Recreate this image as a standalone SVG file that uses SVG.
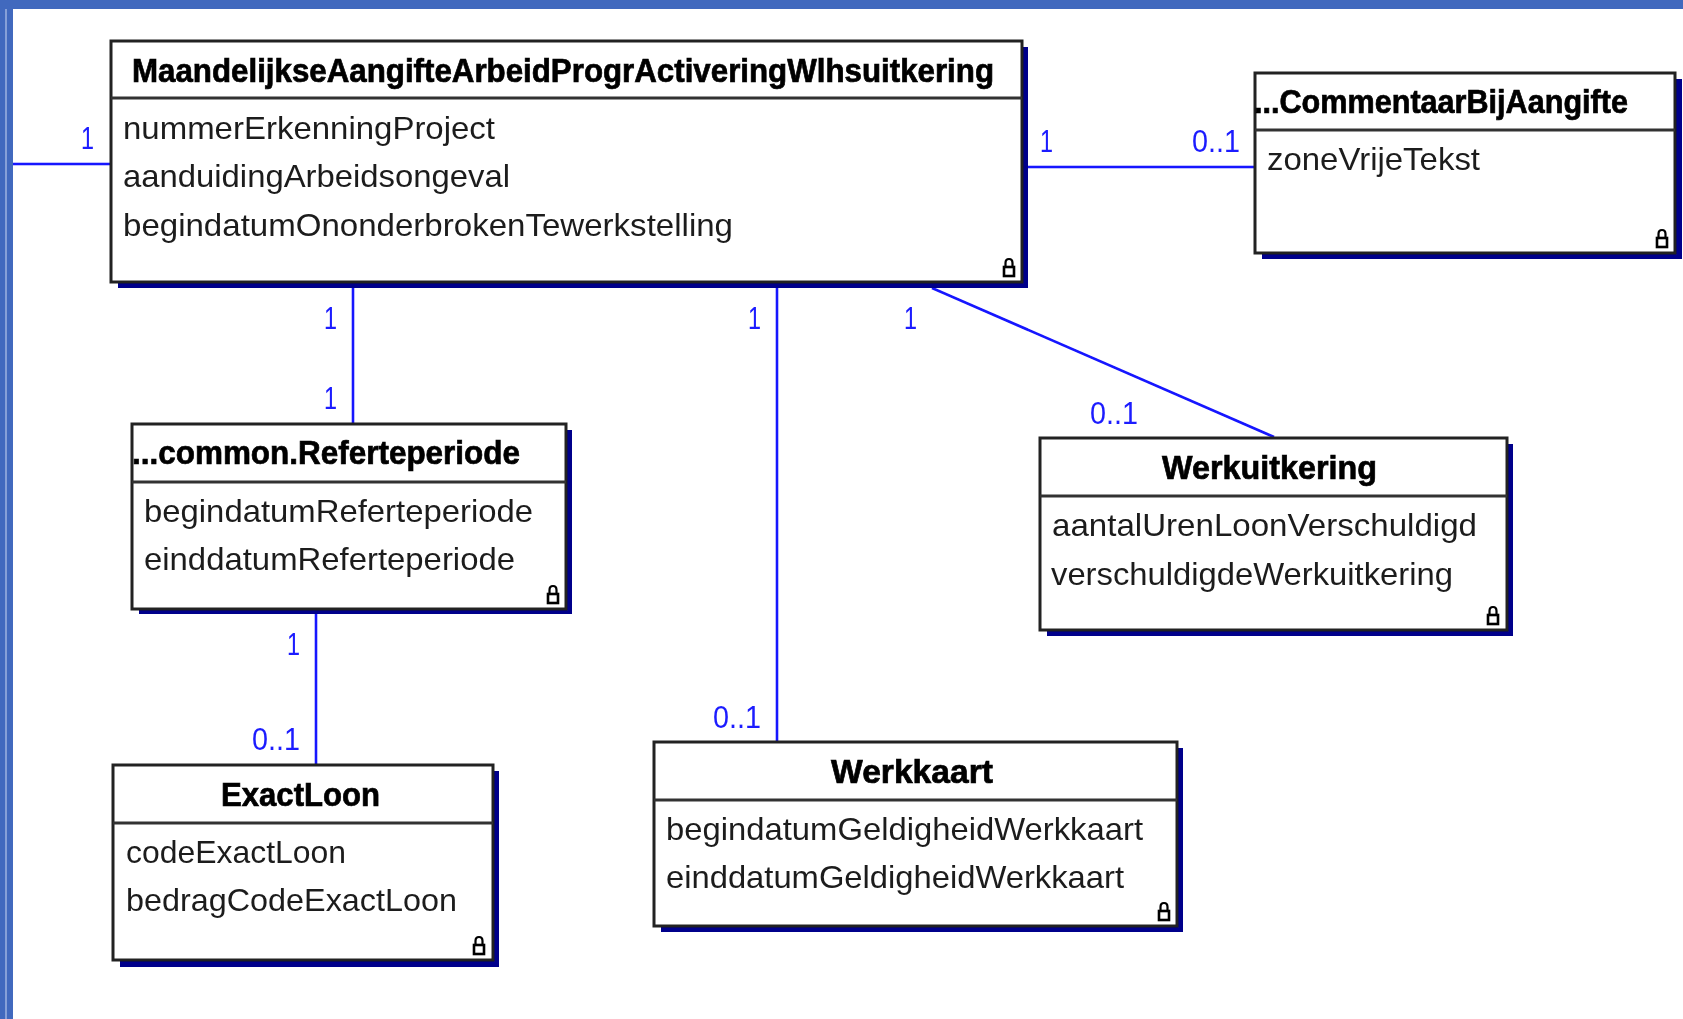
<svg xmlns="http://www.w3.org/2000/svg" width="1683" height="1019" viewBox="0 0 1683 1019">
<defs>
<filter id="soft" x="-2%" y="-5%" width="104%" height="110%"><feGaussianBlur stdDeviation="0.65"/></filter>
<g id="lock"><path d="M-3.500 -8 V-12 Q-3.500 -16 0 -16 Q3.500 -16 3.500 -12 V-8" fill="none" stroke="#000" stroke-width="2.200"/><rect x="-5" y="-8" width="10" height="9" fill="#fff" stroke="#000" stroke-width="2.600"/></g>
</defs>
<style>
.box{fill:#fff;stroke:#222;stroke-width:3}
.shadow{fill:#00008b}
.sep{stroke:#333;stroke-width:3;fill:none}
.title{font-family:"Liberation Sans",Arial,sans-serif;font-weight:700;font-size:33px;fill:#000;stroke:#000;stroke-width:.7}
.attr{font-family:"Liberation Sans",Arial,sans-serif;font-size:32px;fill:#1c1c1c}
.mult{font-family:"Liberation Sans",Arial,sans-serif;font-size:31px;fill:#1a1aff}
.conn{stroke:#1414ff;stroke-width:2.600;fill:none}
</style>
<rect width="1683" height="1019" fill="#fff"/>
<rect width="1683" height="9" fill="#4169be"/>
<rect width="13" height="1019" fill="#4169be"/>
<rect x="5" y="9" width="2" height="1010" fill="#86a0d8"/>
<g filter="url(#soft)">
<g id="connectors">
<line class="conn" x1="13" y1="164" x2="111" y2="164"/>
<line class="conn" x1="1028" y1="167" x2="1255" y2="167"/>
<line class="conn" x1="353" y1="288" x2="353" y2="424"/>
<line class="conn" x1="777" y1="288" x2="777" y2="742"/>
<line class="conn" x1="932" y1="288" x2="1274" y2="437"/>
<line class="conn" x1="316" y1="614" x2="316" y2="765"/>
</g>
<g id="main">
<rect class="shadow" x="118" y="47" width="910" height="241"/>
<rect class="box" x="111" y="41" width="911" height="241"/>
<line class="sep" x1="111" y1="98" x2="1022" y2="98"/>
<text class="title" x="132" y="82" textLength="862" lengthAdjust="spacingAndGlyphs">MaandelijkseAangifteArbeidProgrActiveringWlhsuitkering</text>
<text class="attr" x="123" y="139" textLength="372" lengthAdjust="spacingAndGlyphs">nummerErkenningProject</text>
<text class="attr" x="123" y="187" textLength="387" lengthAdjust="spacingAndGlyphs">aanduidingArbeidsongeval</text>
<text class="attr" x="123" y="236" textLength="610" lengthAdjust="spacingAndGlyphs">begindatumOnonderbrokenTewerkstelling</text>
<use href="#lock" x="1009" y="275"/>
</g>
<g id="commentaar">
<rect class="shadow" x="1262" y="79" width="420" height="180"/>
<rect class="box" x="1255" y="73" width="420" height="180"/>
<line class="sep" x1="1255" y1="130" x2="1675" y2="130"/>
<text class="title" x="1254" y="113" textLength="374" lengthAdjust="spacingAndGlyphs">...CommentaarBijAangifte</text>
<text class="attr" x="1267" y="170" textLength="213" lengthAdjust="spacingAndGlyphs">zoneVrijeTekst</text>
<use href="#lock" x="1662" y="246"/>
</g>
<g id="referteperiode">
<rect class="shadow" x="139" y="430" width="433" height="184"/>
<rect class="box" x="132" y="424" width="434" height="185"/>
<line class="sep" x1="132" y1="482" x2="566" y2="482"/>
<text class="title" x="132" y="464" textLength="388" lengthAdjust="spacingAndGlyphs">...common.Referteperiode</text>
<text class="attr" x="144" y="522" textLength="389" lengthAdjust="spacingAndGlyphs">begindatumReferteperiode</text>
<text class="attr" x="144" y="570" textLength="371" lengthAdjust="spacingAndGlyphs">einddatumReferteperiode</text>
<use href="#lock" x="553" y="602"/>
</g>
<g id="exactloon">
<rect class="shadow" x="120" y="771" width="379" height="196"/>
<rect class="box" x="113" y="765" width="380" height="195"/>
<line class="sep" x1="113" y1="823" x2="493" y2="823"/>
<text class="title" x="221" y="806" textLength="159" lengthAdjust="spacingAndGlyphs">ExactLoon</text>
<text class="attr" x="126" y="863" textLength="220" lengthAdjust="spacingAndGlyphs">codeExactLoon</text>
<text class="attr" x="126" y="911" textLength="331" lengthAdjust="spacingAndGlyphs">bedragCodeExactLoon</text>
<use href="#lock" x="479" y="953"/>
</g>
<g id="werkkaart">
<rect class="shadow" x="661" y="748" width="522" height="184"/>
<rect class="box" x="654" y="742" width="523" height="184"/>
<line class="sep" x1="654" y1="800" x2="1177" y2="800"/>
<text class="title" x="831" y="783" textLength="162" lengthAdjust="spacingAndGlyphs">Werkkaart</text>
<text class="attr" x="666" y="840" textLength="477" lengthAdjust="spacingAndGlyphs">begindatumGeldigheidWerkkaart</text>
<text class="attr" x="666" y="888" textLength="458" lengthAdjust="spacingAndGlyphs">einddatumGeldigheidWerkkaart</text>
<use href="#lock" x="1164" y="919"/>
</g>
<g id="werkuitkering">
<rect class="shadow" x="1047" y="444" width="466" height="192"/>
<rect class="box" x="1040" y="438" width="467" height="192"/>
<line class="sep" x1="1040" y1="496" x2="1507" y2="496"/>
<text class="title" x="1162" y="479" textLength="215" lengthAdjust="spacingAndGlyphs">Werkuitkering</text>
<text class="attr" x="1052" y="536" textLength="425" lengthAdjust="spacingAndGlyphs">aantalUrenLoonVerschuldigd</text>
<text class="attr" x="1051" y="585" textLength="402" lengthAdjust="spacingAndGlyphs">verschuldigdeWerkuitkering</text>
<use href="#lock" x="1493" y="623"/>
</g>
<g id="multiplicities">
<text class="mult" x="81" y="149" textLength="13" lengthAdjust="spacingAndGlyphs">1</text>
<text class="mult" x="1040" y="152" textLength="13" lengthAdjust="spacingAndGlyphs">1</text>
<text class="mult" x="1192" y="152" textLength="48" lengthAdjust="spacingAndGlyphs">0..1</text>
<text class="mult" x="324" y="329" textLength="13" lengthAdjust="spacingAndGlyphs">1</text>
<text class="mult" x="324" y="409" textLength="13" lengthAdjust="spacingAndGlyphs">1</text>
<text class="mult" x="748" y="329" textLength="13" lengthAdjust="spacingAndGlyphs">1</text>
<text class="mult" x="904" y="329" textLength="13" lengthAdjust="spacingAndGlyphs">1</text>
<text class="mult" x="1090" y="424" textLength="48" lengthAdjust="spacingAndGlyphs">0..1</text>
<text class="mult" x="287" y="655" textLength="13" lengthAdjust="spacingAndGlyphs">1</text>
<text class="mult" x="252" y="750" textLength="48" lengthAdjust="spacingAndGlyphs">0..1</text>
<text class="mult" x="713" y="728" textLength="48" lengthAdjust="spacingAndGlyphs">0..1</text>
</g>
</g>
</svg>
